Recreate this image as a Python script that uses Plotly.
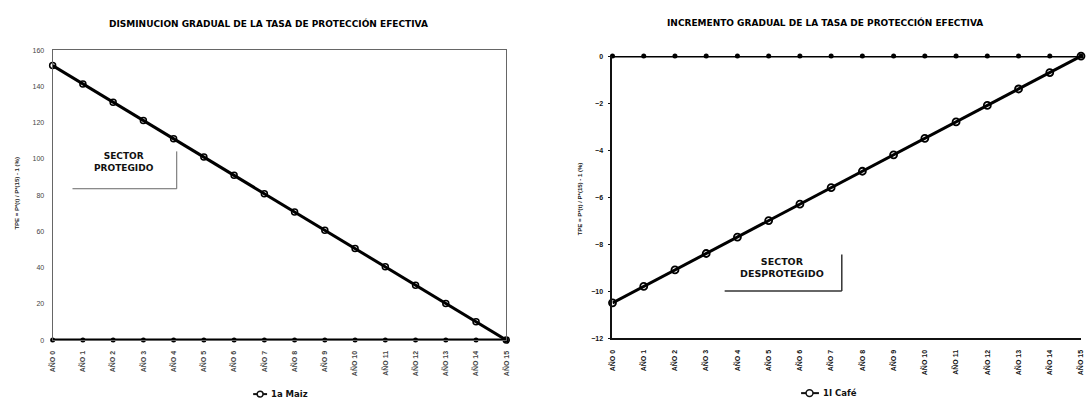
import plotly.graph_objects as go

W, H = 1086, 403

categories = ["AÑO %d" % i for i in range(16)]
maiz = [151.5, 141.4, 131.3, 121.2, 111.1, 101.0, 90.9, 80.8, 70.7, 60.6, 50.5, 40.4, 30.3, 20.2, 10.1, 0.0]
maiz_ref = [0] * 16
cafe = [-10.5, -9.8, -9.1, -8.4, -7.7, -7.0, -6.3, -5.6, -4.9, -4.2, -3.5, -2.8, -2.1, -1.4, -0.7, 0.0]
cafe_ref = [0] * 16

left_title = "DISMINUCION GRADUAL DE LA TASA DE PROTECCIÓN EFECTIVA"
right_title = "INCREMENTO GRADUAL DE LA TASA DE PROTECCIÓN EFECTIVA"
ytitle = "TPE = P*(t) / P*(15) - 1 (%)"
left_name = "1a Maiz"
right_name = "1I Café"


def px(x):
    return x / W


def py(y):
    return 1 - y / H


FONT = "Liberation Sans"
BFONT = "DejaVu Sans"

fig = go.Figure()

# left chart
fig.add_trace(go.Scatter(x=categories, y=maiz_ref, xaxis="x", yaxis="y", mode="lines+markers",
                         line=dict(color="black", width=3), marker=dict(symbol="circle", size=5, color="black"),
                         showlegend=False, cliponaxis=False, hoverinfo="skip"))
fig.add_trace(go.Scatter(x=categories, y=maiz, xaxis="x", yaxis="y", mode="lines+markers", name=left_name,
                         line=dict(color="black", width=3),
                         marker=dict(symbol="circle-open", size=6, color="black", line=dict(width=1.5)),
                         showlegend=False, cliponaxis=False))
# right chart
fig.add_trace(go.Scatter(x=categories, y=cafe_ref, xaxis="x2", yaxis="y2", mode="lines+markers",
                         line=dict(color="black", width=3), marker=dict(symbol="circle", size=5, color="black"),
                         showlegend=False, cliponaxis=False, hoverinfo="skip"))
fig.add_trace(go.Scatter(x=categories, y=cafe, xaxis="x2", yaxis="y2", mode="lines+markers", name=right_name,
                         line=dict(color="black", width=3),
                         marker=dict(symbol="circle-open", size=7, color="black", line=dict(width=1.8)),
                         showlegend=False, cliponaxis=False))

tickfont_l = dict(family=FONT, size=7, color="#444")

fig.update_layout(
    width=W, height=H,
    margin=dict(l=0, r=0, t=0, b=0),
    paper_bgcolor="white", plot_bgcolor="white",
    font=dict(family=FONT, color="black"),
    showlegend=False,
    xaxis=dict(domain=[px(48), px(505)], anchor="y", type="category", range=[0, 15],
               showgrid=False, zeroline=False, showline=True, linecolor="#666", linewidth=1, mirror=True,
               tickangle=-90, tickfont=dict(family=FONT, size=7, color="#444", weight="bold"),
               ticks="", ticklabelstandoff=7),
    yaxis=dict(domain=[py(342), py(47)], anchor="x", range=[0, 160], dtick=20,
               showgrid=False, zeroline=False, showline=True, linecolor="#666", linewidth=1, mirror=True,
               tickfont=tickfont_l, ticks="", ticklabelstandoff=6),
    xaxis2=dict(domain=[px(612), px(1084)], anchor="y2", type="category", range=[0, 15],
                showgrid=False, zeroline=False, showline=True, linecolor="#111", linewidth=2, mirror=False,
                tickangle=-90, tickfont=dict(family=FONT, size=7, color="#111", weight="bold"),
                ticks="", ticklabelstandoff=7),
    yaxis2=dict(domain=[py(340), py(53)], anchor="x2", range=[-12, 0], dtick=2,
                showgrid=False, zeroline=False, showline=True, linecolor="#111", linewidth=2, mirror=False,
                tickfont=dict(family=FONT, size=7, color="#111", weight="bold"), ticks="outside", ticklen=2,
                tickcolor="#111", ticklabelstandoff=4),
)

ann = []
ann.append(dict(text="<b>" + left_title + "</b>", x=px(265), y=py(20), xref="paper", yref="paper",
                showarrow=False, font=dict(family=BFONT, size=9, color="black"), xanchor="center", yanchor="middle"))
ann.append(dict(text="<b>" + right_title + "</b>", x=px(826), y=py(19), xref="paper", yref="paper",
                showarrow=False, font=dict(family=BFONT, size=9, color="black"), xanchor="center", yanchor="middle"))
ann.append(dict(text="<b>" + ytitle + "</b>", x=px(12), y=py(192), xref="paper", yref="paper", textangle=-90,
                showarrow=False, font=dict(family=FONT, size=6, color="#222"), xanchor="center", yanchor="middle"))
ann.append(dict(text="<b>" + ytitle + "</b>", x=px(579), y=py(198), xref="paper", yref="paper", textangle=-90,
                showarrow=False, font=dict(family=FONT, size=6, color="#111"), xanchor="center", yanchor="middle"))
ann.append(dict(text="<b>SECTOR<br>PROTEGIDO</b>", x=px(120), y=py(161), xref="paper", yref="paper",
                showarrow=False, font=dict(family=BFONT, size=9, color="#111"), xanchor="center", yanchor="middle"))
ann.append(dict(text="<b>SECTOR<br>DESPROTEGIDO</b>", x=px(783), y=py(268), xref="paper", yref="paper",
                showarrow=False, font=dict(family=BFONT, size=9.5, color="#111"), xanchor="center", yanchor="middle"))
# legends (manual, compact symbol like the original)
ann.append(dict(text="<b>" + left_name + "</b>", x=px(266), y=py(397), xref="paper", yref="paper",
                showarrow=False, font=dict(family=BFONT, size=8.5, color="#111"), xanchor="left", yanchor="middle"))
ann.append(dict(text="<b>" + right_name + "</b>", x=px(822), y=py(396), xref="paper", yref="paper",
                showarrow=False, font=dict(family=BFONT, size=8.5, color="#111"), xanchor="left", yanchor="middle"))
fig.update_layout(annotations=ann)

shapes = [
    dict(type="line", xref="paper", yref="paper", x0=px(68), x1=px(173), y0=py(188), y1=py(188),
         line=dict(color="#666", width=1)),
    dict(type="line", xref="paper", yref="paper", x0=px(173), x1=px(173), y0=py(150), y1=py(188),
         line=dict(color="#666", width=1)),
    dict(type="line", xref="paper", yref="paper", x0=px(725), x1=px(843), y0=py(292), y1=py(292),
         line=dict(color="#333", width=1.5)),
    dict(type="line", xref="paper", yref="paper", x0=px(843), x1=px(843), y0=py(255), y1=py(292),
         line=dict(color="#333", width=1.5)),
    # legend symbols
    dict(type="line", xref="paper", yref="paper", x0=px(250), x1=px(264), y0=py(397), y1=py(397),
         line=dict(color="#111", width=2)),
    dict(type="circle", xref="paper", yref="paper", x0=px(254), x1=px(260), y0=py(400), y1=py(394),
         line=dict(color="#111", width=1.5), fillcolor="white"),
    dict(type="line", xref="paper", yref="paper", x0=px(802), x1=px(820), y0=py(396), y1=py(396),
         line=dict(color="#111", width=2)),
    dict(type="circle", xref="paper", yref="paper", x0=px(807), x1=px(814), y0=py(399.5), y1=py(392.5),
         line=dict(color="#111", width=1.5), fillcolor="white"),
]
fig.update_layout(shapes=shapes)

fig.write_html("out.html", config={"displayModeBar": False},
               post_script="document.body.style.margin='0';document.body.style.overflow='hidden';")
